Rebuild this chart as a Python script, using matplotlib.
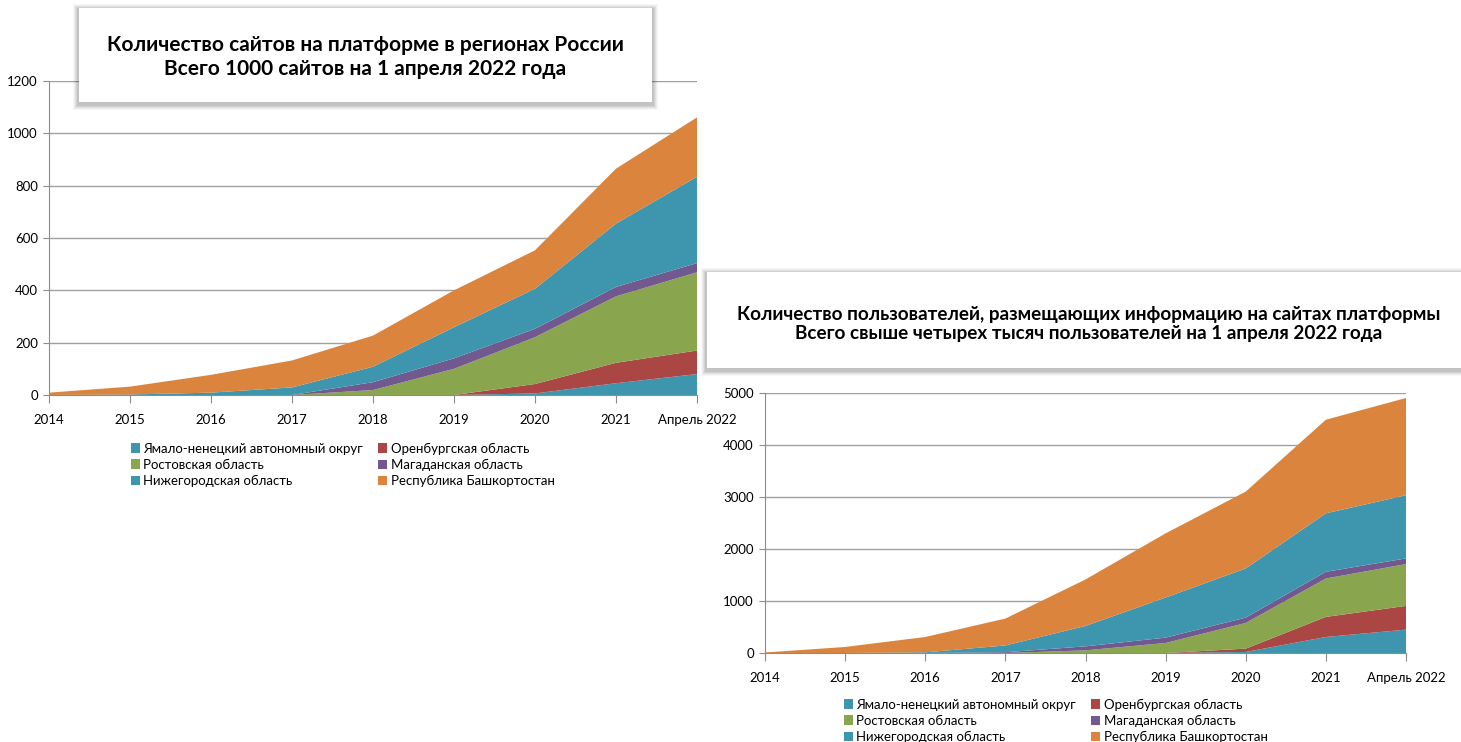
import matplotlib
matplotlib.use('Agg')
import matplotlib.pyplot as plt
from matplotlib.patches import Rectangle

plt.rcParams['font.family'] = ['Lato', 'DejaVu Sans']

W, H = 1461, 742

years = ['2014', '2015', '2016', '2017', '2018', '2019', '2020', '2021', 'Апрель 2022']
regions = ['Ямало-ненецкий автономный округ', 'Оренбургская область',
           'Ростовская область', 'Магаданская область',
           'Нижегородская область', 'Республика Башкортостан']
colors = ['#3D96AE', '#AA4643', '#89A54E', '#71588F', '#3D96AE', '#DB843D']

# sites per region (stacked, bottom to top)
sites_yamal = [0, 0, 0, 0, 0, 0, 6, 45, 80]
sites_orenburg = [0, 0, 0, 0, 0, 0, 36, 78, 90]
sites_rostov = [0, 0, 0, 0, 19, 100, 179, 254, 299]
sites_magadan = [0, 0, 0, 0, 30, 40, 32, 36, 35]
sites_nizhny = [0, 2, 9, 29, 59, 119, 153, 242, 330]
sites_bashkir = [9, 30, 68, 103, 119, 141, 147, 210, 227]

# users per region
users_yamal = [0, 0, 0, 0, 0, 0, 20, 308, 450]
users_orenburg = [0, 0, 0, 0, 0, 0, 64, 386, 456]
users_rostov = [0, 0, 0, 0, 51, 193, 494, 739, 804]
users_magadan = [0, 0, 0, 15, 77, 103, 103, 129, 109]
users_nizhny = [0, 0, 13, 130, 392, 771, 945, 1124, 1215]
users_bashkir = [10, 116, 295, 517, 894, 1234, 1478, 1800, 1870]

title_sites = 'Количество сайтов на платформе в регионах России\nВсего 1000 сайтов на 1 апреля 2022 года'
title_users = ('Количество пользователей, размещающих информацию на сайтах платформы\n'
               'Всего свыше четырех тысяч пользователей на 1 апреля 2022 года')


def px_axes(fig, x0, x1, y_top, y_bot):
    return fig.add_axes([x0 / W, 1 - y_bot / H, (x1 - x0) / W, (y_bot - y_top) / H])


def draw_stack(ax, series, ymax, step):
    x = list(range(len(years)))
    ax.stackplot(x, *series, colors=colors, labels=regions, linewidth=0)
    ax.set_xlim(0, len(years) - 1)
    ax.set_ylim(0, ymax)
    ax.set_xticks(x)
    ax.set_xticklabels(years)
    ax.set_yticks(range(0, ymax + 1, step))
    ax.yaxis.grid(True, color='#a0a0a0', linewidth=1.0)
    ax.set_axisbelow(True)
    for s in ['top', 'right']:
        ax.spines[s].set_visible(False)
    for s in ['left', 'bottom']:
        ax.spines[s].set_color('#8c8c8c')
    ax.tick_params(axis='x', length=6, color='#8c8c8c', pad=8, labelsize=9.5)
    ax.tick_params(axis='y', length=4, color='#8c8c8c', pad=4, labelsize=9.5)


def title_box(fig, x0, x1, y0, y1, text, size, dx, dy):
    # soft shadow
    for i, a in enumerate([0.03, 0.04, 0.05, 0.06, 0.07]):
        g = 6 - i
        fig.add_artist(Rectangle(((x0 - g) / W, 1 - (y1 + g + 2) / H),
                                 (x1 - x0 + 2 * g) / W, (y1 - y0 + 2 * g) / H,
                                 transform=fig.transFigure, facecolor='black',
                                 edgecolor='none', alpha=a, zorder=5))
    fig.add_artist(Rectangle((x0 / W, 1 - y1 / H), (x1 - x0) / W, (y1 - y0) / H,
                             transform=fig.transFigure, facecolor='white',
                             edgecolor='none', zorder=6))
    fig.text(((x0 + x1) / 2 + dx) / W, 1 - ((y0 + y1) / 2 + dy) / H, text,
             ha='center', va='center', fontsize=size, fontweight='bold',
             linespacing=1.2, zorder=7)


fig = plt.figure(figsize=(W / 100, H / 100), dpi=100)

ax1 = px_axes(fig, 49, 697, 81, 395)
draw_stack(ax1, [sites_yamal, sites_orenburg, sites_rostov, sites_magadan,
                 sites_nizhny, sites_bashkir], 1200, 200)

ax2 = px_axes(fig, 765, 1406, 393, 653)
draw_stack(ax2, [users_yamal, users_orenburg, users_rostov, users_magadan,
                 users_nizhny, users_bashkir], 5000, 1000)

# legends: column-wise order
order = [0, 2, 4, 1, 3, 5]
for ax, (lx, ly) in [(ax1, (124, 436)), (ax2, (837, 692))]:
    h, l = ax.get_legend_handles_labels()
    fig.legend([h[i] for i in order], [l[i] for i in order], ncol=2,
               loc='upper left', bbox_to_anchor=(lx / W, 1 - ly / H),
               frameon=False, fontsize=9.5, handlelength=0.7, handleheight=0.7,
               handletextpad=0.25, columnspacing=1.15, labelspacing=0.3,
               borderpad=0)

title_box(fig, 79, 652, 8, 102, title_sites, 15, 0, 2)
title_box(fig, 707, 1461, 272, 368, title_users, 13.6, 5, 4)

fig.savefig('out.png', dpi=100)
plt.close(fig)
